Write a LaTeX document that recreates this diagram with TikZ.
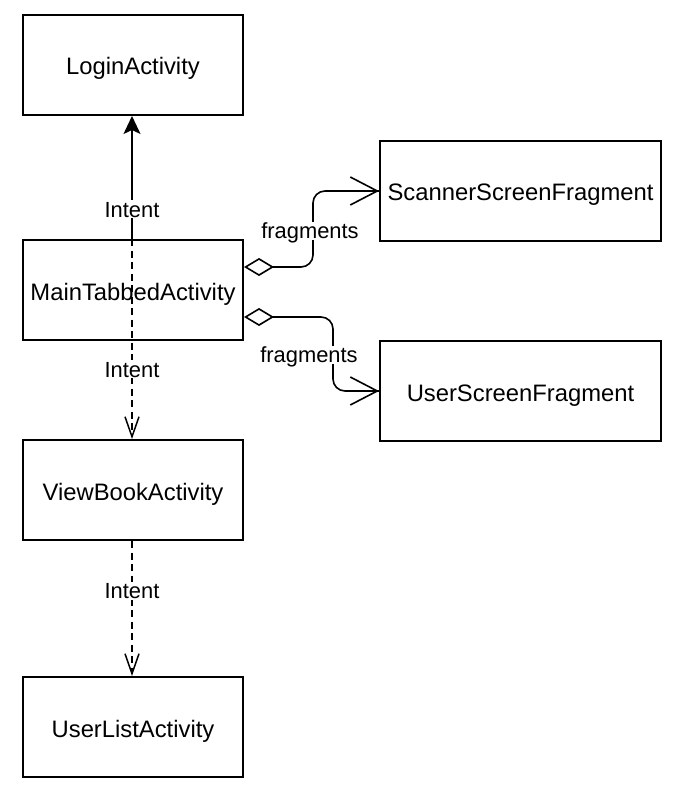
\documentclass[tikz,border=0pt]{standalone}
\usepackage{fontspec}
\setmainfont{Liberation Sans}
\usetikzlibrary{arrows.meta}
\begin{document}
\begin{tikzpicture}[x=1pt,y=1pt,
  box/.style={draw=black,line width=2pt,fill=white,minimum width=220pt,minimum height=100pt,inner sep=0pt,text height=20pt,text depth=0pt,font=\fontsize{23.8}{26}\selectfont},
  fbox/.style={box,minimum width=281pt},
  lbl/.style={fill=white,inner sep=1pt,text height=16pt,text depth=0pt,font=\fontsize{21.9}{24}\selectfont},
  conn/.style={line width=1.6pt,draw=black},
  dashconn/.style={conn,dash pattern=on 7pt off 4.5pt},
  vtip/.style={-{Straight Barb[length=20pt,width=14pt,line width=1.5pt]}},
  chev/.style={-{Straight Barb[length=27pt,width=28pt,line width=1.6pt]}},
  dia/.style={{Diamond[open,length=30pt,width=18pt,line width=1.6pt,fill=white]}-}
]
\useasboundingbox (0,0) rectangle (682,-794);
\node[box] (login) at (133,-65) {LoginActivity};
\node[box] (main) at (133,-290) {MainTabbedActivity};
\node[box] (view) at (133,-490) {ViewBookActivity};
\node[box] (ulist) at (133,-727) {UserListActivity};
\node[fbox] (scan) at (520.5,-191) {ScannerScreenFragment};
\node[fbox] (uscr) at (520.5,-391) {UserScreenFragment};

% Intent: Main -> Login (solid)
\draw[conn,-{Stealth[length=18pt,width=17pt,inset=4pt]}] ([xshift=-1pt]main.north) -- ([xshift=-1pt]login.south)
  node[lbl,pos=0.24] {Intent};
% Intent: Main -> ViewBook (dashed, crossing Main)
\draw[dashconn,vtip] ([xshift=-1pt]main.north) -- ([xshift=-1pt]view.north)
  node[lbl,pos=0.652] {Intent};
% Intent: ViewBook -> UserList (dashed)
\draw[dashconn,vtip] ([xshift=-1pt]view.south) -- ([xshift=-1pt]ulist.north)
  node[lbl,pos=0.368] {Intent};

% fragments
\coordinate (c1) at (313,-191);
\coordinate (c2) at (333,-391);
\draw[conn,rounded corners=12pt,dia] ([yshift=23pt]main.east) -| (c1) -- (scan.west);
\draw[conn,chev] ([xshift=-20pt]scan.west) -- (scan.west);
\draw[conn,rounded corners=12pt,dia] ([yshift=-27pt]main.east) -| (c2) -- (uscr.west);
\draw[conn,chev] ([xshift=-20pt]uscr.west) -- (uscr.west);
\node[lbl] (f1) at (310,-231) {fragments};
\node[lbl] (f2) at (309,-354.5) {fragments};
\end{tikzpicture}
\end{document}
